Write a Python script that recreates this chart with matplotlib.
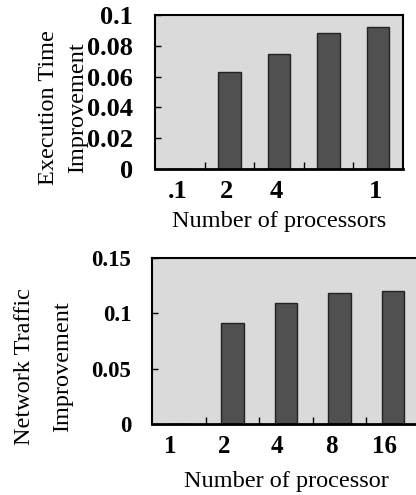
import matplotlib.pyplot as plt
import numpy as np

# Data
top_labels = ['.1', '2', '4', '', '1']
exec_time = [0.0, 0.063, 0.075, 0.088, 0.092]

bottom_labels = ['1', '2', '4', '8', '16']
net_traffic = [0.0, 0.091, 0.109, 0.118, 0.120]

plt.rcParams['font.family'] = ['Liberation Serif', 'DejaVu Serif']

W, H = 416, 495
fig = plt.figure(figsize=(W / 100, H / 100), dpi=100)

bg = '#dadada'
bar_col = '#505050'


def px_axes(left, right, top, bottom):
    return fig.add_axes([left / W, 1 - bottom / H, (right - left) / W, (bottom - top) / H])


def style(ax, yticks, ylabels, xlabels, xlab, xoff, ypad, yfs, xfs):
    x = np.arange(len(xlabels))
    ax.set_facecolor(bg)
    ax.set_xlim(-0.5, len(xlabels) - 0.5)
    ax.set_yticks(yticks)
    ax.set_yticklabels(ylabels, fontsize=yfs, fontweight='bold')
    ax.set_xticks(x + xoff)
    ax.set_xticklabels(xlabels, fontsize=xfs, fontweight='bold')
    ax.set_xticks(x[:-1] + 0.5, minor=True)
    ax.tick_params(axis='x', which='major', length=0, pad=8)
    ax.tick_params(axis='x', which='minor', direction='in', length=5, width=1)
    ax.tick_params(axis='y', direction='in', length=4, width=1, pad=ypad)
    for s in ax.spines.values():
        s.set_linewidth(1.5)
    ax.spines['bottom'].set_linewidth(2)
    ax.set_xlabel(xlab, fontsize=17.5, labelpad=6)


# top chart
ax1 = px_axes(155, 403, 15, 169)
x = np.arange(len(top_labels))
ax1.bar(x, exec_time, width=0.45, color=bar_col, edgecolor='#222222', linewidth=1)
ax1.set_ylim(0, 0.1)
style(ax1, [0, 0.02, 0.04, 0.06, 0.08, 0.1], ['0', '0.02', '0.04', '0.06', '0.08', '0.1'],
      top_labels, 'Number of processors', -0.05, 16, 19, 19)
fig.text(49 / W, 1 - 108 / H, 'Execution Time', rotation=90, fontsize=17.5, ha='center', va='center')
fig.text(78 / W, 1 - 108 / H, 'Improvement', rotation=90, fontsize=17.5, ha='center', va='center')

# bottom chart
ax2 = px_axes(152, 420, 258, 424)
x = np.arange(len(bottom_labels))
ax2.bar(x, net_traffic, width=0.42, color=bar_col, edgecolor='#222222', linewidth=1)
ax2.set_ylim(0, 0.15)
style(ax2, [0, 0.05, 0.1, 0.15], ['0', '0.05', '0.1', '0.15'],
      bottom_labels, 'Number of processor', -0.16, 15, 16.5, 18)
ax2.xaxis.labelpad = 9
fig.text(25 / W, 1 - 367 / H, 'Network Traffic', rotation=90, fontsize=17.5, ha='center', va='center')
fig.text(63 / W, 1 - 367 / H, 'Improvement', rotation=90, fontsize=17.5, ha='center', va='center')

fig.savefig('out.png', dpi=100)
